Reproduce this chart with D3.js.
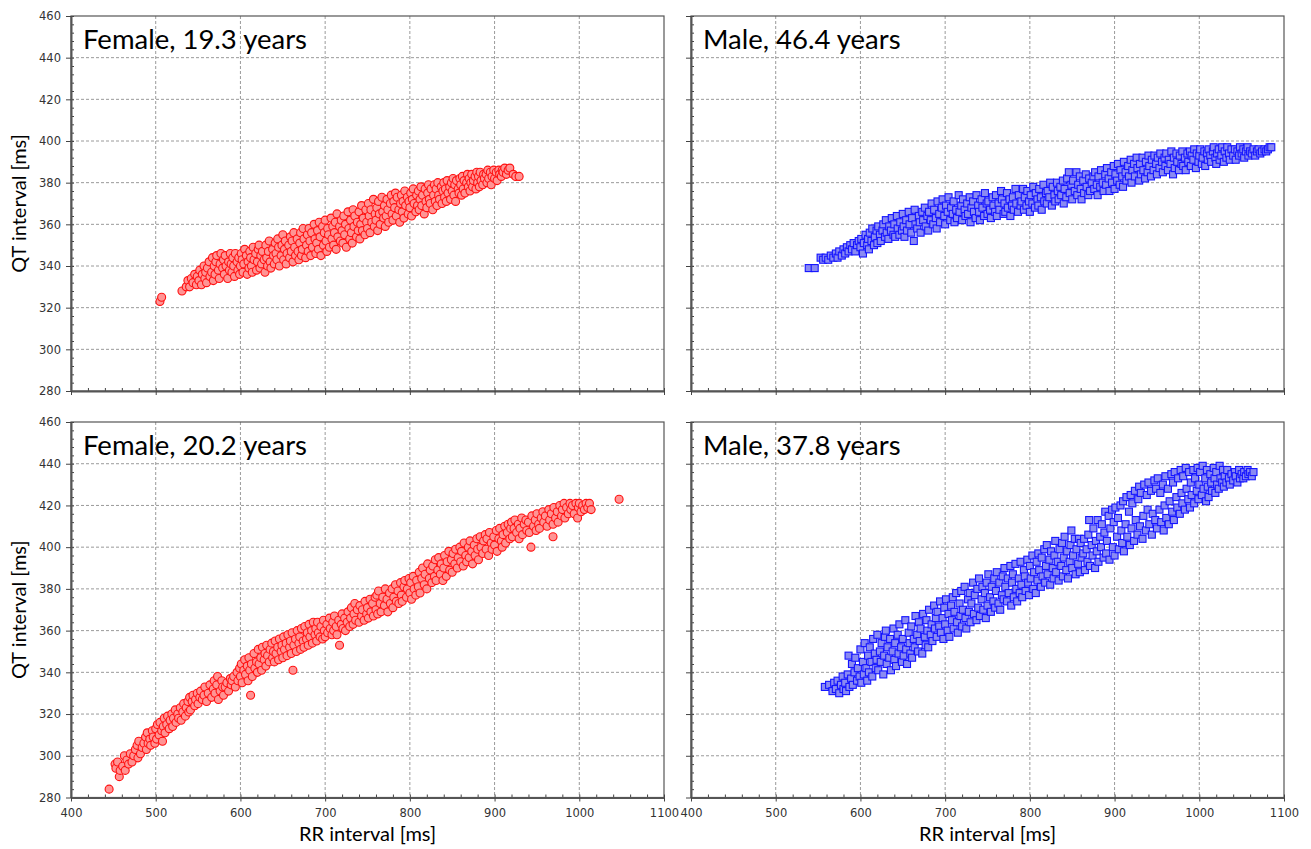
<!DOCTYPE html>
<html>
<head>
<meta charset="utf-8">
<script src="https://cdn.jsdelivr.net/npm/d3@7"></script>
<style>
  body { margin: 0; background: #fff; }
  svg { display: block; }
  .tick text { font-family: "DejaVu Sans", Verdana, sans-serif; font-size: 11.5px; }
  .title { font-family: Lato, "Open Sans", sans-serif; font-size: 27.5px; fill: #000; }
  .axis-title { font-family: Lato, "Open Sans", sans-serif; font-size: 20px; fill: #000; }
</style>
</head>
<body>
<svg id="chart" width="1311" height="849"></svg>
<script>
// tick values
const xTicks = [400, 500, 600, 700, 800, 900, 1000, 1100];
const yTicks = [280, 300, 320, 340, 360, 380, 400, 420, 440, 460];
const xMinor = d3.range(400, 1101, 20);
const yMinor = d3.range(280, 461, 4);

const titles = ["Female, 19.3 years", "Male, 46.4 years", "Female, 20.2 years", "Male, 37.8 years"];

// [RR, QT] pairs
const female19 = [
[505,323],[507,325],[531,328],[536,330],[538,333],
[540,330],[542,334],[544,332],[546,336],[548,331],[549,335],
[551,333],[552,338],[554,331],[555,336],[557,340],[558,334],[559,337],
[560,332],[561,339],[563,342],[564,335],[566,337],[567,344],[568,333],[569,340],
[570,336],[571,342],[572,345],[574,338],[575,334],[576,341],[577,346],[579,339],
[580,343],[581,336],[582,345],[583,340],[585,334],[586,342],[587,338],[588,346],[589,341],
[590,337],[591,344],[592,340],[593,335],[594,346],[596,342],[597,338],[598,344],[599,336],
[600,340],[601,346],[602,343],[603,337],[604,341],[605,348],[607,345],[608,336],[609,342],
[610,339],[611,347],[612,344],[613,340],[614,337],[615,349],[616,343],[618,346],[619,338],
[620,342],[621,348],[622,350],[623,339],[624,345],[625,341],[626,347],[628,343],[629,337],
[630,350],[631,344],[632,340],[633,347],[634,352],[635,342],[636,339],[638,348],[639,345],
[640,341],[641,351],[642,346],[643,343],[644,353],[645,349],[646,340],[648,345],[649,350],
[650,355],[651,343],[652,348],[653,352],[654,341],[655,346],[657,350],[658,344],[659,354],
[660,347],[661,352],[662,342],[663,356],[664,349],[665,345],[667,353],[668,347],[669,343],
[670,351],[671,356],[672,345],[673,348],[674,358],[675,353],[677,344],[678,350],[679,355],
[680,347],[681,358],[682,352],[683,345],[684,356],[685,349],[687,360],[688,353],[689,346],
[690,351],[691,357],[692,348],[693,361],[694,354],[695,345],[697,359],[698,350],[699,356],
[700,362],[701,352],[702,347],[703,358],[704,355],[705,349],[707,363],[708,353],[709,359],
[710,350],[711,356],[712,361],[713,348],[714,365],[715,354],[717,359],[718,352],[719,362],
[720,357],[721,351],[722,364],[723,355],[724,360],[725,349],[727,366],[728,358],[729,353],
[730,362],[731,356],[732,351],[733,367],[734,359],[735,364],[737,354],[738,361],[739,357],
[740,366],[741,353],[742,360],[743,369],[744,357],[745,363],[747,355],[748,367],[749,361],
[750,358],[751,370],[752,364],[753,356],[754,367],[755,361],[757,372],[758,359],[759,365],
[760,362],[761,368],[762,357],[763,371],[764,365],[765,360],[767,373],[768,366],[769,363],
[770,369],[771,359],[772,364],[773,372],[774,367],[775,361],[777,370],[778,374],[779,365],
[780,362],[781,371],[782,368],[783,375],[784,364],[785,373],[787,367],[788,361],[789,370],
[790,374],[791,366],[792,371],[793,363],[794,376],[795,369],[797,373],[798,365],[799,371],
[800,368],[801,375],[802,364],[803,372],[804,377],[805,370],[807,366],[808,374],[809,369],
[810,376],[811,367],[812,372],[813,378],[814,369],[815,374],[817,365],[818,377],[819,371],
[820,368],[821,375],[822,379],[823,372],[824,370],[825,377],[827,367],[828,374],[829,379],
[830,371],[831,377],[832,369],[833,380],[834,374],[835,372],[837,378],[838,370],[839,376],
[840,380],[841,373],[842,377],[843,371],[844,381],[845,375],[847,378],[848,372],[849,380],
[850,376],[851,382],[852,374],[853,379],[854,371],[855,381],[857,377],[858,375],[859,382],
[860,379],[861,374],[862,383],[863,377],[864,381],[865,375],[867,380],[868,384],[869,378],
[870,382],[871,376],[872,380],[873,384],[874,378],[875,381],[877,383],[878,377],[879,385],
[880,380],[881,383],[882,378],[883,385],[884,381],[886,379],[887,384],[888,382],
[890,384],[891,380],[892,386],[893,382],[895,385],[896,379],[897,383],[899,386],
[900,382],[902,385],[903,381],[905,386],[906,384],[908,383],[909,386],
[910,385],[912,387],[914,384],[916,386],[918,387],[922,384],[925,383],[929,383]
];

const male46 = [
[539,339],[546,339],
[553,344],[556,343],[559,344],[562,343],[565,345],[568,344],
[571,346],[573,344],[575,347],[578,345],
[580,348],[582,346],[584,349],[586,347],[588,350],
[590,348],[592,351],[594,347],[596,350],[598,352],
[600,349],[601,353],[603,346],[604,351],[606,355],[608,350],[609,353],
[610,348],[611,356],[613,352],[614,358],[616,350],[617,354],[619,357],
[620,351],[621,359],[623,355],[624,352],[626,357],[627,360],[629,354],
[630,362],[631,356],[633,353],[634,359],[636,357],[637,363],[639,355],
[640,360],[641,354],[643,364],[644,358],[646,355],[647,361],[649,357],
[650,365],[651,359],[652,354],[654,362],[655,357],[657,366],[658,360],
[660,356],[661,363],[663,352],[664,367],[665,360],[667,358],[669,364],
[670,361],[671,356],[673,366],[674,362],[676,368],[677,359],[679,364],
[680,357],[681,366],[683,362],[684,370],[686,360],[687,367],[689,363],
[690,358],[691,371],[693,365],[694,361],[696,368],[697,372],[699,364],
[700,360],[701,369],[703,366],[704,373],[706,362],[707,368],[709,365],
[710,371],[711,361],[713,367],[714,363],[716,374],[717,366],[719,369],
[720,362],[721,372],[723,367],[724,364],[726,370],[727,365],[729,373],
[730,361],[731,368],[733,371],[734,366],[736,363],[737,374],[739,369],
[740,366],[741,362],[743,372],[744,368],[746,364],[747,375],[749,370],
[750,365],[751,371],[753,367],[754,363],[756,373],[757,369],[759,366],
[760,374],[761,364],[763,370],[764,367],[766,376],[767,372],[769,365],
[770,370],[771,366],[773,375],[774,368],[776,372],[777,364],[779,369],
[780,373],[781,367],[783,377],[784,370],[786,366],[787,374],[789,369],
[790,371],[792,377],[793,367],[794,373],[796,369],[797,376],[799,371],
[800,366],[801,374],[803,370],[804,378],[806,368],[807,375],[809,372],
[810,369],[811,377],[813,373],[814,367],[816,379],[817,371],[819,375],
[820,370],[821,376],[823,373],[824,380],[826,369],[827,378],[829,374],
[830,371],[832,380],[833,376],[834,372],[836,378],[837,374],[839,381],
[840,370],[841,377],[843,373],[844,382],[846,385],[847,375],[849,379],
[850,372],[851,381],[853,376],[855,385],[856,374],[857,379],[859,383],
[860,377],[861,372],[863,381],[864,375],[866,384],[867,378],[869,374],
[870,382],[871,376],[873,380],[875,383],[876,377],[877,385],[879,379],
[880,374],[881,383],[883,378],[884,386],[886,380],[887,376],[889,384],
[890,379],[891,387],[893,382],[894,376],[896,385],[897,380],[899,388],
[900,377],[901,384],[903,381],[904,389],[906,379],[907,386],[909,383],
[910,378],[911,390],[913,385],[914,381],[916,388],[917,383],[919,391],
[920,380],[921,386],[923,389],[924,383],[926,392],[927,387],[929,381],
[930,389],[931,384],[933,392],[934,386],[936,382],[937,390],[939,385],
[940,393],[941,388],[943,383],[944,391],[946,386],[947,393],[949,389],
[950,384],[951,392],[953,387],[954,394],[956,390],[957,385],[959,392],
[960,388],[961,394],[963,386],[964,391],[966,389],[967,395],[969,384],
[970,392],[971,387],[973,394],[974,390],[976,386],[977,393],[979,389],
[980,395],[981,388],[983,392],[984,386],[986,394],[987,390],[989,395],
[990,388],[991,393],[993,391],[994,396],[996,387],[997,394],[999,390],
[1000,393],[1001,396],[1003,389],[1004,392],[1006,395],[1007,388],[1009,394],
[1010,391],[1011,396],[1013,393],[1014,390],[1016,395],[1017,397],[1019,392],
[1020,389],[1021,394],[1023,396],[1024,391],[1026,393],[1027,397],[1029,390],
[1030,395],[1032,392],[1033,397],[1035,394],[1036,391],[1038,396],
[1040,393],[1042,396],[1043,391],[1045,395],[1047,393],[1048,397],
[1050,394],[1052,396],[1053,392],[1055,395],[1057,397],[1058,393],
[1060,395],[1062,394],[1064,396],[1066,393],[1068,395],
[1070,396],[1072,394],[1074,395],[1077,396],[1079,395],[1081,396],[1083,397],[1085,397]
];

const female20 = [
[445,284],
[452,296],[453,294],[455,297],[457,290],[458,293],
[461,295],[463,300],[464,293],[466,298],[468,296],
[470,301],[472,297],[474,300],[476,303],[478,305],[479,299],
[480,307],[482,301],[484,304],[486,306],[488,309],[489,303],
[490,311],[491,306],[493,308],[494,305],[496,312],[497,309],[499,306],
[500,313],[501,308],[502,315],[504,310],[505,316],[507,312],[508,307],[509,314],
[510,318],[511,311],[513,315],[514,319],[516,313],[517,317],[519,320],
[520,314],[521,318],[523,322],[524,316],[526,320],[527,318],[529,323],
[530,317],[532,321],[533,325],[535,319],[536,323],[538,326],[539,321],
[540,328],[541,322],[543,326],[544,329],[546,324],[547,327],[549,330],
[550,325],[552,328],[553,331],[555,327],[557,329],[558,333],
[560,326],[562,330],[564,334],[566,328],[568,332],[569,336],
[570,330],[572,334],[573,338],[574,327],[576,331],[578,336],[579,333],
[580,329],[582,333],[584,335],[586,331],[588,337],[589,334],
[590,336],[592,338],[594,333],[596,340],[597,336],[599,342],
[600,338],[601,344],[602,335],[604,341],[605,346],[606,339],[608,343],[609,336],
[610,347],[611,341],[612,329],[613,344],[614,338],[616,349],[617,342],[619,345],
[620,340],[621,351],[622,344],[624,347],[625,341],[626,352],[628,346],[629,349],
[630,343],[631,353],[632,348],[634,345],[635,351],[637,354],[638,347],[639,350],
[640,345],[641,355],[642,349],[644,352],[645,346],[646,356],[648,350],[649,353],
[650,347],[651,357],[652,351],[654,354],[655,348],[656,358],[658,352],[659,355],
[660,349],[661,359],[662,341],[663,353],[665,356],[666,350],[667,360],[669,354],
[670,357],[671,351],[672,361],[674,355],[675,352],[676,362],[678,356],[679,359],
[680,353],[681,363],[682,357],[684,360],[685,354],[686,364],[688,358],[689,361],
[690,355],[691,364],[692,359],[694,357],[695,362],[697,356],[698,365],[699,360],
[700,357],[702,363],[703,359],[705,366],[706,361],[708,358],[709,364],
[710,360],[711,367],[713,362],[714,358],[716,365],[717,353],[719,363],
[720,368],[721,361],[723,366],[724,360],[726,364],[727,369],[729,362],
[730,366],[731,371],[733,363],[734,368],[735,373],[736,365],[738,370],
[740,364],[741,372],[743,367],[744,370],[746,365],[747,374],[749,368],
[750,371],[751,366],[753,375],[754,369],[756,373],[757,367],[759,376],
[760,370],[761,377],[762,368],[763,379],[765,373],[766,369],[768,376],
[770,372],[771,380],[773,375],[774,369],[776,378],[777,373],[779,380],
[780,371],[781,376],[783,382],[784,374],[786,379],[787,373],[789,383],
[790,377],[791,374],[793,381],[794,384],[796,376],[797,380],[799,385],
[800,378],[801,383],[802,375],[804,386],[805,380],[807,377],[808,384],
[810,381],[811,388],[812,378],[814,385],[815,390],[817,382],[818,387],
[820,380],[821,392],[823,385],[824,389],[826,383],[827,391],[829,386],
[830,394],[831,384],[833,389],[834,395],[836,387],[837,392],[839,384],
[840,390],[841,396],[843,386],[844,393],[846,398],[847,389],[849,394],
[850,388],[851,397],[853,392],[854,399],[856,390],[857,395],[859,400],
[860,393],[861,398],[863,391],[864,402],[866,396],[867,393],[869,400],
[870,395],[871,403],[873,398],[874,392],[876,401],[877,396],[879,404],
[880,399],[881,394],[883,405],[884,400],[886,397],[887,403],[889,406],
[890,399],[891,404],[893,396],[894,407],[896,402],[897,399],[899,405],
[900,401],[902,408],[903,398],[905,404],[906,409],[908,403],[909,400],
[910,406],[912,410],[913,402],[915,407],[916,411],[918,404],[919,409],
[920,412],[921,405],[923,409],[924,413],[926,407],[928,411],[929,404],
[930,409],[932,414],[933,406],[935,411],[937,413],[938,408],
[940,412],[941,407],[943,400],[944,415],[946,410],[948,413],[949,408],
[950,416],[952,411],[953,409],[955,414],[957,417],[958,412],
[960,415],[962,410],[964,418],[965,413],[967,416],[969,405],[969,411],
[970,419],[972,414],[974,417],[975,412],[977,420],[979,415],
[980,418],[982,421],[983,414],[985,419],[987,416],[989,421],
[990,418],[992,420],[994,416],[996,421],[998,414],[999,419],
[1000,421],[1002,417],[1004,420],[1006,418],[1008,421],
[1010,419],[1012,421],[1014,418],[1047,423]
];

const male37 = [
[558,333],[563,334],
[567,331],[569,335],[571,332],[573,336],[575,330],[577,334],
[579,338],[580,332],[582,335],[583,331],[585,339],[586,348],[587,333],[589,337],
[590,344],[591,334],[593,340],[594,347],[596,336],[597,342],[599,338],
[600,351],[601,335],[603,345],[604,339],[605,354],[607,342],[608,336],[609,348],
[610,340],[611,352],[613,345],[614,338],[615,356],[617,349],[618,342],[619,346],
[620,358],[621,341],[623,350],[624,345],[625,354],[627,339],[628,348],[629,357],
[630,360],[631,344],[632,352],[634,347],[635,356],[636,341],[638,350],[639,361],
[640,346],[641,354],[642,343],[644,358],[645,349],[646,363],[648,352],[649,345],
[650,356],[651,348],[653,365],[654,351],[655,344],[657,359],[658,354],[659,349],
[660,362],[661,347],[663,356],[664,352],[665,367],[667,358],[668,350],[669,364],
[670,355],[671,361],[673,349],[674,368],[676,357],[677,353],[678,365],[679,360],
[680,352],[681,370],[683,358],[684,363],[685,355],[687,372],[688,361],[689,366],
[690,357],[691,369],[693,362],[694,374],[695,359],[697,366],[698,356],[699,371],
[700,363],[701,375],[703,360],[704,368],[705,357],[707,372],[708,365],[709,376],
[710,361],[711,369],[713,378],[714,364],[715,359],[717,373],[718,367],[719,379],
[720,362],[721,370],[723,381],[724,366],[725,361],[727,375],[728,369],[729,378],
[730,364],[731,373],[733,383],[734,368],[735,377],[737,365],[738,380],[739,371],
[740,385],[741,367],[743,375],[744,381],[745,370],[747,378],[748,366],[749,383],
[750,372],[751,387],[753,376],[754,369],[755,381],[757,374],[758,385],[759,371],
[760,379],[761,388],[763,373],[764,383],[765,370],[767,377],[768,386],[769,375],
[770,390],[771,381],[773,374],[774,385],[775,378],[777,391],[778,372],[779,383],
[780,387],[781,376],[783,392],[784,380],[785,374],[787,385],[788,378],[789,393],
[790,382],[791,376],[793,389],[794,386],[795,379],[797,394],[798,383],[799,377],
[800,391],[801,385],[803,396],[804,380],[805,388],[807,378],[808,393],[809,384],
[810,397],[811,389],[813,381],[814,395],[815,386],[817,399],[818,383],[819,391],
[820,401],[821,387],[823,394],[824,382],[825,398],[827,390],[828,385],[829,396],
[830,403],[831,388],[833,393],[834,384],[835,399],[837,391],[838,402],[839,386],
[840,395],[841,405],[843,389],[844,398],[845,385],[847,393],[848,401],[849,408],
[850,390],[851,396],[853,404],[854,387],[855,399],[857,392],[858,404],[859,388],
[860,402],[861,395],[863,397],[864,404],[865,389],[867,399],[868,393],[869,406],
[870,413],[871,391],[873,401],[874,396],[875,409],[877,390],[878,403],[879,398],
[880,413],[881,393],[883,405],[884,400],[885,411],[887,395],[888,407],[889,417],
[890,397],[891,403],[893,415],[894,394],[895,409],[897,418],[898,400],[899,412],
[900,396],[901,419],[903,405],[904,414],[905,399],[907,420],[908,408],[909,402],
[910,422],[911,398],[913,411],[914,424],[915,405],[917,417],[918,401],[919,425],
[920,409],[921,421],[923,403],[924,427],[925,413],[927,406],[928,423],[929,429],
[930,410],[931,426],[933,404],[934,415],[935,430],[937,408],[938,425],[939,418],
[940,431],[941,411],[943,427],[944,406],[945,416],[947,432],[948,413],[949,428],
[950,409],[951,433],[953,418],[954,426],[955,412],[957,430],[958,408],[959,420],
[960,434],[961,414],[963,428],[964,411],[965,422],[967,435],[968,417],[969,431],
[970,413],[971,436],[973,424],[974,419],[975,433],[977,416],[978,437],[979,426],
[980,421],[981,434],[983,418],[984,438],[985,428],[987,423],[988,436],[989,419],
[990,431],[991,425],[993,437],[994,421],[995,433],[997,427],[998,438],[999,423],
[1000,430],[1001,436],[1003,425],[1004,439],[1005,428],[1007,433],[1008,422],[1009,437],
[1010,429],[1011,424],[1013,435],[1014,431],[1015,427],[1017,438],[1018,433],[1019,426],
[1020,436],[1021,430],[1023,428],[1024,439],[1025,433],[1027,431],[1028,437],[1029,429],
[1030,434],[1032,431],[1033,437],[1035,433],[1036,430],[1038,435],
[1040,432],[1042,436],[1043,434],[1045,431],[1047,437],[1048,433],
[1050,435],[1052,433],[1053,436],[1055,434],[1057,437],[1058,435],
[1060,436],[1062,434],[1064,436]
];

const svg = d3.select("#chart");
svg.append("rect").attr("width", 1311).attr("height", 849).attr("fill", "#fff");

// panel layout
const cols = [{left: 71, right: 664}, {left: 691, right: 1284}];
const rows = [{top: 16, bottom: 391}, {top: 422, bottom: 797.5}];

const panels = [
    {title: titles[0], data: female19, shape: "circle", col: 0, row: 0},
    {title: titles[1], data: male46, shape: "square", col: 1, row: 0},
    {title: titles[2], data: female20, shape: "circle", col: 0, row: 1},
    {title: titles[3], data: male37, shape: "square", col: 1, row: 1}
];

function drawPanel(p) {
    let c = cols[p.col], r = rows[p.row];
    let x = d3.scaleLinear().domain([400, 1100]).range([c.left, c.right]),
        y = d3.scaleLinear().domain([280, 460]).range([r.bottom, r.top]);

    let g = svg.append("g");

    // dashed grid
    g.append("g").selectAll("line")
        .data(xTicks.slice(1, -1))
        .join("line")
        .attr("x1", d => x(d)).attr("x2", d => x(d))
        .attr("y1", r.top).attr("y2", r.bottom)
        .attr("stroke", "#9a9a9a").attr("stroke-dasharray", "3,2");
    g.append("g").selectAll("line")
        .data(yTicks.slice(1, -1))
        .join("line")
        .attr("x1", c.left).attr("x2", c.right)
        .attr("y1", d => y(d)).attr("y2", d => y(d))
        .attr("stroke", "#9a9a9a").attr("stroke-dasharray", "3,2");

    // marks
    if (p.shape === "circle") {
        g.append("g").selectAll("circle")
            .data(p.data)
            .join("circle")
            .attr("cx", d => x(d[0]))
            .attr("cy", d => y(d[1]))
            .attr("r", 4)
            .attr("fill", "#ff9494")
            .attr("stroke", "#ff1010")
            .attr("stroke-width", 1.1);
    } else {
        let s = 7;
        g.append("g").selectAll("rect")
            .data(p.data)
            .join("rect")
            .attr("x", d => x(d[0]) - s / 2)
            .attr("y", d => y(d[1]) - s / 2)
            .attr("width", s).attr("height", s)
            .attr("fill", "#8a8af2")
            .attr("stroke", "#1414ff")
            .attr("stroke-width", 1.1);
    }

    // frame
    g.append("rect")
        .attr("x", c.left).attr("y", r.top)
        .attr("width", c.right - c.left).attr("height", r.bottom - r.top)
        .attr("fill", "none").attr("stroke", "#555").attr("stroke-width", 1.2);

    // minor ticks
    g.append("g")
        .attr("transform", `translate(${c.left},0)`)
        .call(d3.axisRight(y).tickValues(yMinor).tickSize(3).tickFormat(""))
        .call(a => a.select(".domain").remove())
        .selectAll("line").attr("stroke", "#444");
    g.append("g")
        .attr("transform", `translate(0,${r.bottom})`)
        .call(d3.axisTop(x).tickValues(xMinor).tickSize(3).tickFormat(""))
        .call(a => a.select(".domain").remove())
        .selectAll("line").attr("stroke", "#444");

    // major axes
    let yAxis = d3.axisLeft(y).tickValues(yTicks).tickSize(5).tickSizeOuter(0).tickPadding(5)
        .tickFormat(p.col === 1 ? "" : d3.format("d"));
    let ya = g.append("g").attr("transform", `translate(${c.left},0)`).call(yAxis);
    ya.select(".domain").attr("stroke", "#555").attr("stroke-width", 2);
    ya.selectAll("line").attr("stroke", "#444");

    let xAxis = d3.axisBottom(x).tickValues(xTicks).tickSize(4).tickSizeOuter(0).tickPadding(7)
        .tickFormat(p.row === 0 ? "" : d3.format("d"));
    let xa = g.append("g").attr("transform", `translate(0,${r.bottom})`).call(xAxis);
    xa.select(".domain").attr("stroke", "#555").attr("stroke-width", 2);
    xa.selectAll("line").attr("stroke", "#444");
    xa.selectAll("text").attr("fill", "#333");
    ya.selectAll("text").attr("fill", "#333");

    // panel title
    g.append("text")
        .attr("class", "title")
        .attr("x", c.left + 12)
        .attr("y", r.top + 33)
        .text(p.title);

    // axis titles
    if (p.col === 0) {
        g.append("text")
            .attr("class", "axis-title")
            .attr("text-anchor", "middle")
            .attr("transform", `translate(26,${(r.top + r.bottom) / 2}) rotate(-90)`)
            .text("QT interval [ms]");
    }
    if (p.row === 1) {
        g.append("text")
            .attr("class", "axis-title")
            .attr("text-anchor", "middle")
            .attr("x", (c.left + c.right) / 2)
            .attr("y", 841)
            .text("RR interval [ms]");
    }
}

panels.forEach(drawPanel);
</script>
</body>
</html>
